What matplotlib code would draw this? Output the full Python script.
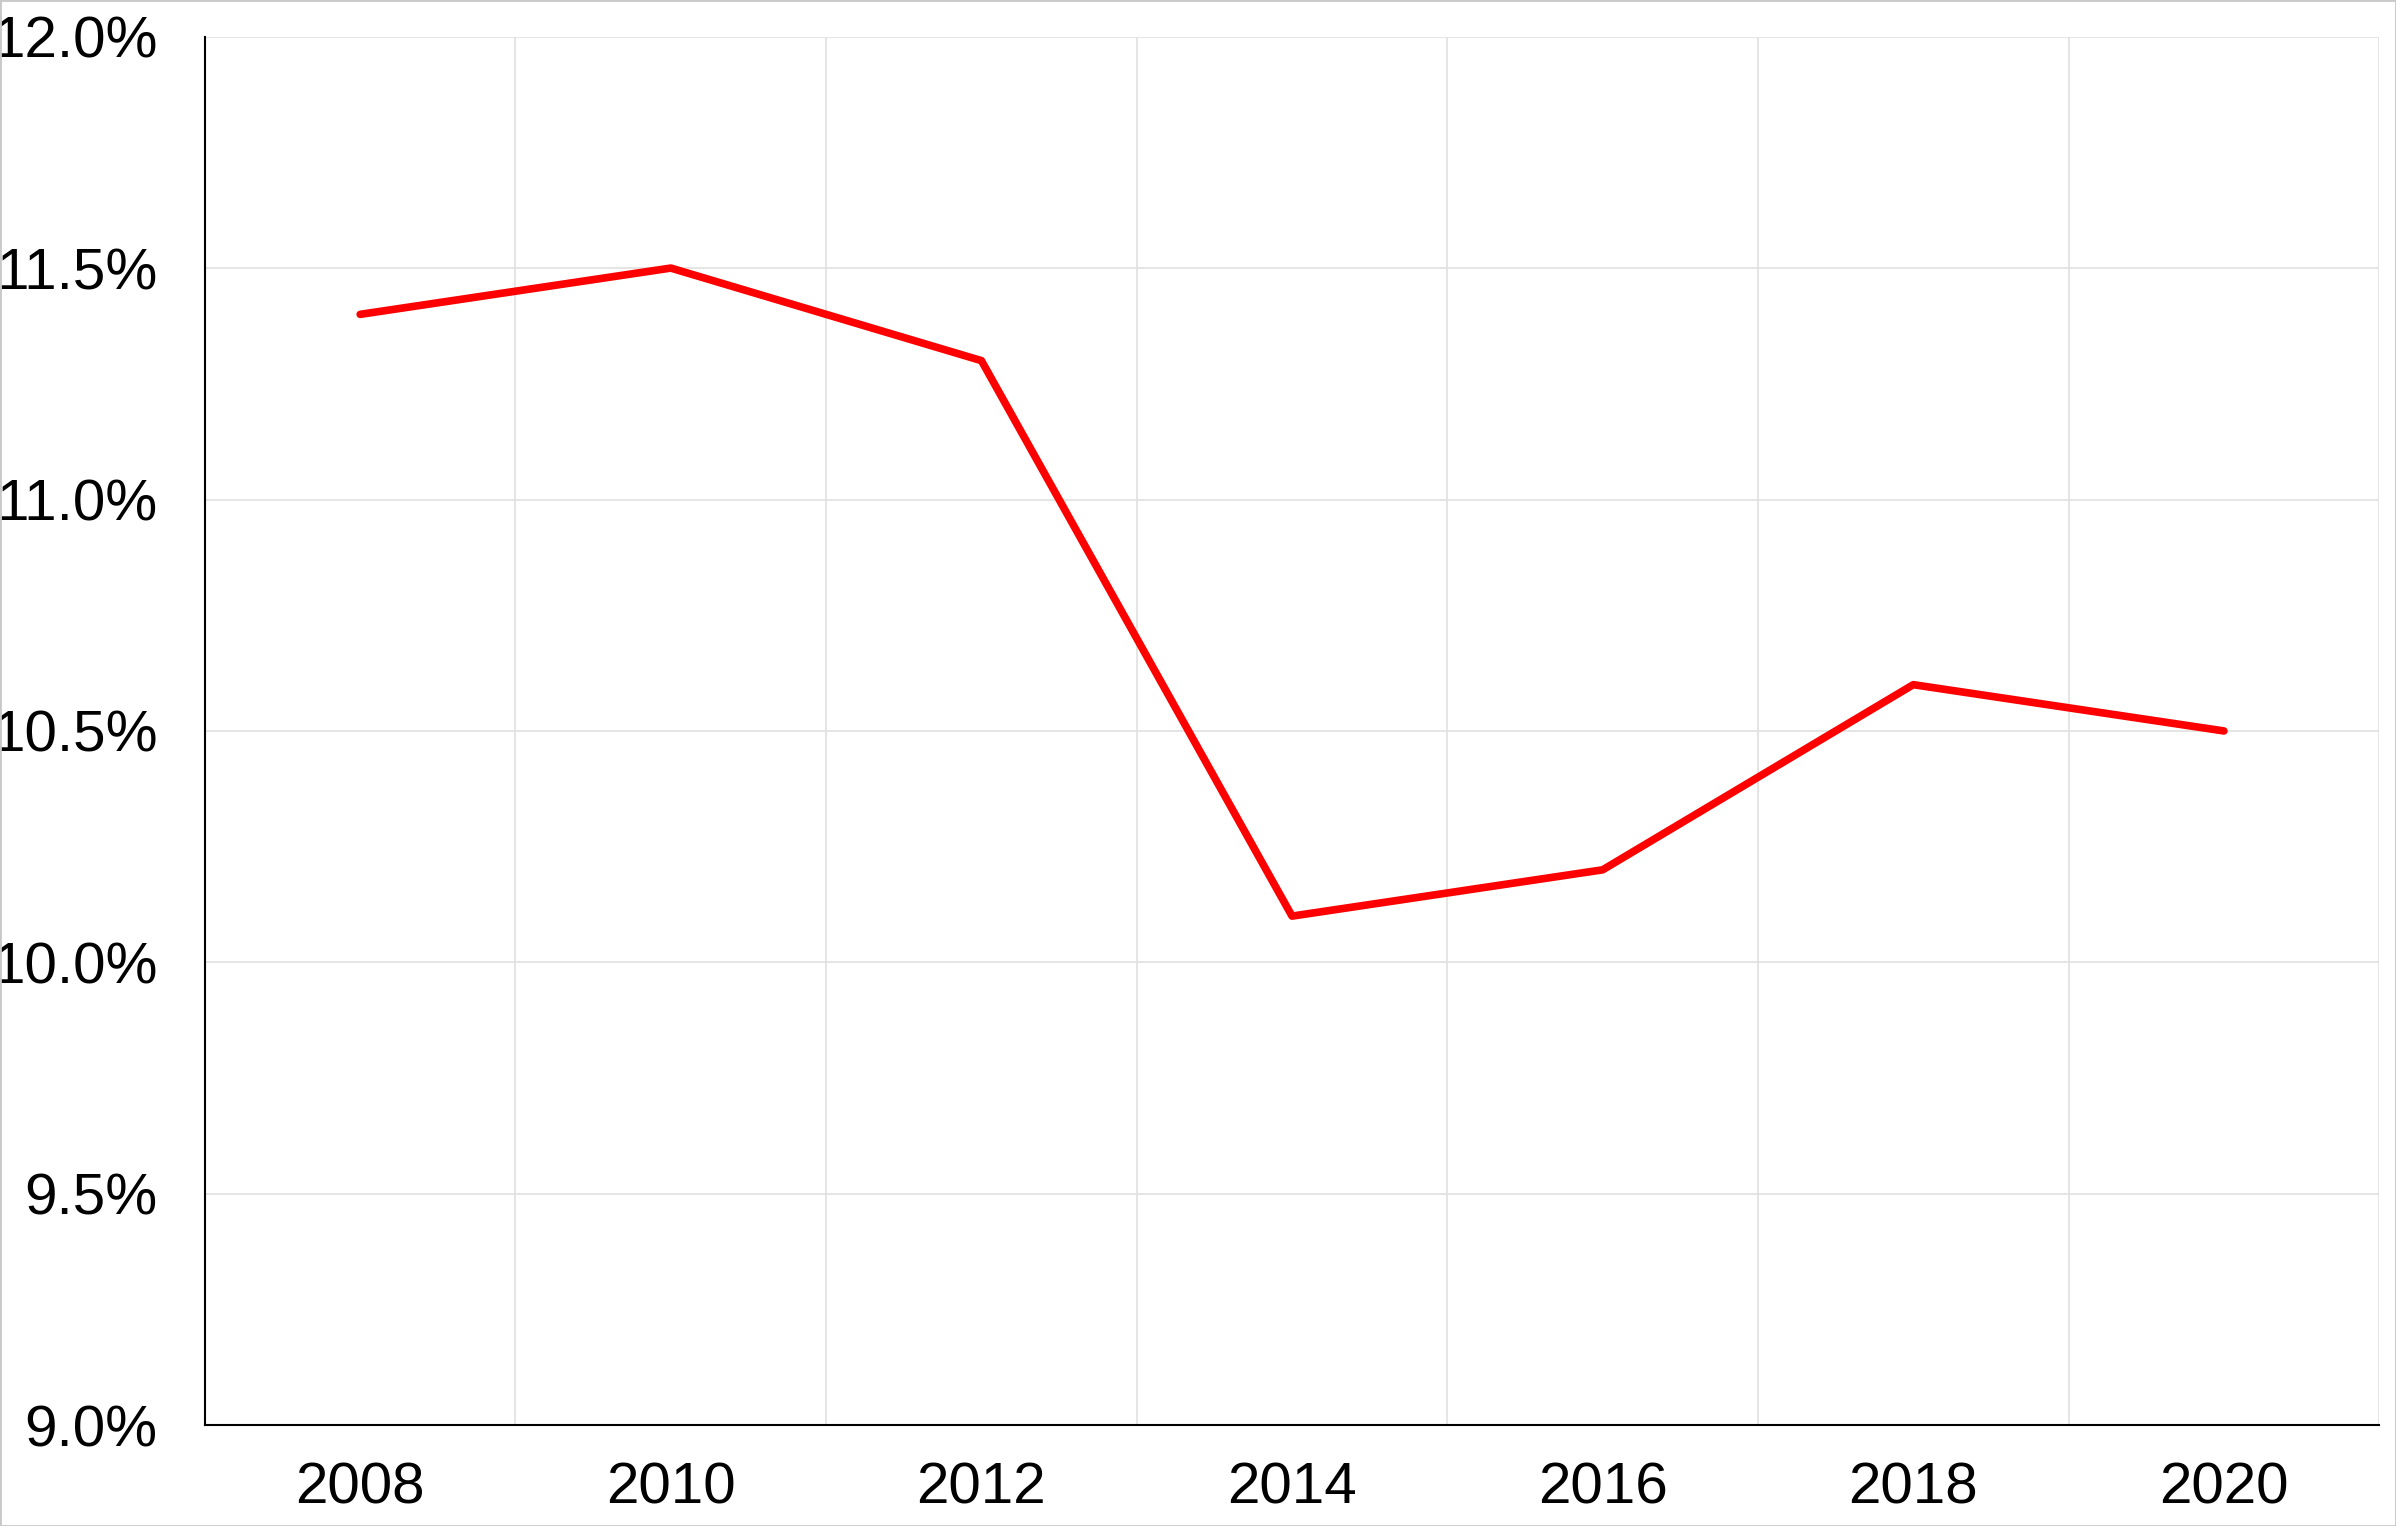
import matplotlib
matplotlib.use("Agg")
import matplotlib.pyplot as plt
from matplotlib.ticker import FuncFormatter, FixedLocator

years = ["2008", "2010", "2012", "2014", "2016", "2018", "2020"]
values = [11.4, 11.5, 11.3, 10.1, 10.2, 10.6, 10.5]

plt.rcParams['font.family'] = ['Liberation Sans', 'DejaVu Sans']
fig = plt.figure(figsize=(23.96, 15.26), dpi=100)
ax = fig.add_axes([0.0855, 0.066, 0.9075, 0.91])
x = list(range(len(years)))
ax.plot(x, values, color='#ff0000', lw=5.5, solid_capstyle='round')
ax.set_xlim(-0.5, len(years) - 0.5)
ax.set_ylim(9.0, 12.0)
ax.set_xticks(x)
ax.set_xticklabels(years)
ax.xaxis.set_minor_locator(FixedLocator([i + 0.5 for i in range(-1, len(years))]))
ax.set_yticks([9.0, 9.5, 10.0, 10.5, 11.0, 11.5, 12.0])
ax.yaxis.set_major_formatter(FuncFormatter(lambda v, p: f"{v:.1f}%"))
ax.grid(False)
ax.grid(True, which='minor', axis='x', color='#e0e0e0', lw=1.2)
ax.grid(True, which='major', axis='y', color='#e0e0e0', lw=1.2)
ax.tick_params(which='both', length=0, labelsize=42, colors='black')
ax.tick_params(axis='x', pad=26)
ax.tick_params(axis='y', pad=34)
for s in ['top', 'right']:
    ax.spines[s].set_visible(False)
for s in ['left', 'bottom']:
    ax.spines[s].set_color('black')
    ax.spines[s].set_linewidth(1.5)
fig.patches.append(plt.Rectangle((0, 0), 1, 1, transform=fig.transFigure,
                                 fill=False, edgecolor='#c8c8c8', lw=2))
fig.savefig("out.png", dpi=100)
